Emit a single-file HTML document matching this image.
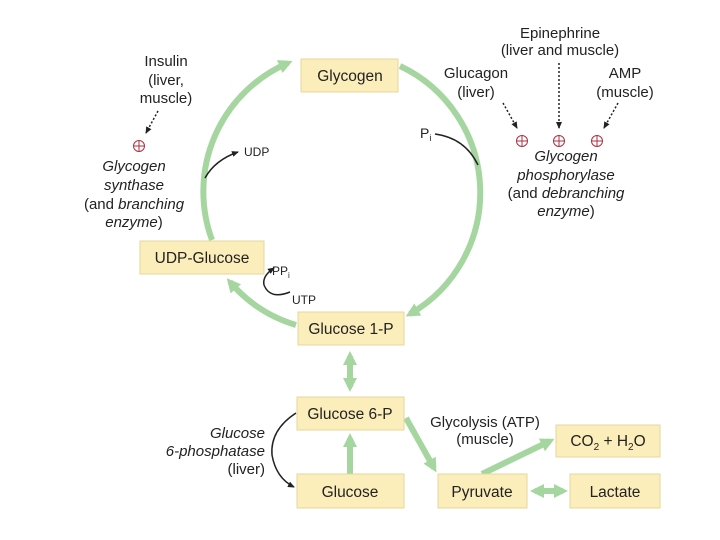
<!DOCTYPE html>
<html><head><meta charset="utf-8"><style>
html,body{margin:0;padding:0;background:#fff;}
svg{display:block;font-family:"Liberation Sans",sans-serif;}
</style></head><body>
<svg width="720" height="540" viewBox="0 0 720 540" xmlns="http://www.w3.org/2000/svg">
<defs>
<marker id="g" markerWidth="16" markerHeight="14" refX="9" refY="7" orient="auto" markerUnits="userSpaceOnUse"><path d="M0,0 L14,7 L0,14 Z" fill="#a6d6a0"/></marker>
<marker id="gs" markerWidth="16" markerHeight="14" refX="9" refY="7" orient="auto-start-reverse" markerUnits="userSpaceOnUse"><path d="M0,0 L14,7 L0,14 Z" fill="#a6d6a0"/></marker>
<marker id="k" markerWidth="8" markerHeight="8" refX="6" refY="4" orient="auto" markerUnits="userSpaceOnUse"><path d="M0,1 L7,4 L0,7 Z" fill="#222"/></marker>
</defs>
<g fill="none" stroke="#a6d6a0" stroke-width="6">
<path d="M212,240 A140,140 0 0 1 288,63" marker-end="url(#g)"/>
<path d="M400,66 A140,140 0 0 1 410,314" marker-end="url(#g)"/>
<path d="M296,325 A140,140 0 0 1 230,282" marker-end="url(#g)"/>
<path d="M350,356 L350,387" marker-end="url(#g)" marker-start="url(#gs)"/>
<path d="M350,474 L350,438" marker-end="url(#g)"/>
<path d="M406,418 L434,468" marker-end="url(#g)"/>
<path d="M482,474 L550,441" marker-end="url(#g)"/>
<path d="M535,491 L563,491" marker-end="url(#g)" marker-start="url(#gs)"/>
</g>
<g fill="#fbeebb" stroke="#e6d79e" stroke-width="1">
<rect x="301" y="59" width="97" height="33"/>
<rect x="140" y="241" width="124" height="33"/>
<rect x="298" y="312" width="106" height="33"/>
<rect x="297" y="397" width="107" height="33"/>
<rect x="297" y="474" width="107" height="34"/>
<rect x="438" y="474" width="89" height="34"/>
<rect x="556" y="425" width="104" height="32"/>
<rect x="570" y="474" width="90" height="34"/>
</g>
<g font-size="15.5" fill="#222" text-anchor="middle">
<text x="350" y="81">Glycogen</text>
<text x="202" y="263">UDP-Glucose</text>
<text x="351" y="334">Glucose 1-P</text>
<text x="350" y="419">Glucose 6-P</text>
<text x="350" y="497">Glucose</text>
<text x="482" y="497">Pyruvate</text>
<text x="608" y="446">CO<tspan font-size="10" dy="4">2</tspan><tspan dy="-4"> + H</tspan><tspan font-size="10" dy="4">2</tspan><tspan dy="-4">O</tspan></text>
<text x="615" y="497">Lactate</text>
</g>
<g font-size="15" fill="#222" text-anchor="middle">
<text x="166" y="66">Insulin</text><text x="166" y="85">(liver,</text><text x="166" y="103">muscle)</text>
<text x="134" y="171" font-style="italic">Glycogen</text>
<text x="134" y="190" font-style="italic">synthase</text>
<text x="134" y="209">(and <tspan font-style="italic">branching</tspan></text>
<text x="134" y="227"><tspan font-style="italic">enzyme</tspan>)</text>
<text x="560" y="38">Epinephrine</text><text x="560" y="55">(liver and muscle)</text>
<text x="476" y="78">Glucagon</text><text x="476" y="97">(liver)</text>
<text x="625" y="78">AMP</text><text x="625" y="97">(muscle)</text>
<text x="566" y="161" font-style="italic">Glycogen</text>
<text x="566" y="180" font-style="italic">phosphorylase</text>
<text x="566" y="198">(and <tspan font-style="italic">debranching</tspan></text>
<text x="566" y="216"><tspan font-style="italic">enzyme</tspan>)</text>
<text x="485" y="427">Glycolysis (ATP)</text><text x="485" y="444">(muscle)</text>
<text x="265" y="438" text-anchor="end" font-style="italic">Glucose</text>
<text x="265" y="456" text-anchor="end" font-style="italic">6-phosphatase</text>
<text x="265" y="474" text-anchor="end">(liver)</text>
</g>
<g font-size="12" fill="#222">
<text x="244" y="156">UDP</text>
<text x="272" y="275">PP<tspan font-size="8" dy="3">i</tspan></text>
<text x="292" y="304">UTP</text>
<text x="420" y="138" font-size="14">P<tspan font-size="9" dy="3">i</tspan></text>
</g>
<g fill="none" stroke="#222" stroke-width="1.5">
<path d="M205,178 Q215,160 238,152" marker-end="url(#k)"/>
<path d="M290,292 Q270,300 264,285 Q262,276 274,268" marker-end="url(#k)"/>
<path d="M435,134 Q465,138 478,165"/>
<path d="M296,413 Q270,430 272,455 Q276,478 294,487" marker-end="url(#k)"/>
</g>
<g fill="none" stroke="#222" stroke-width="1.5" stroke-dasharray="2,2">
<path d="M158,111 L146,133" marker-end="url(#k)"/>
<path d="M503,103 L517,128" marker-end="url(#k)"/>
<path d="M559,63 L559,128" marker-end="url(#k)"/>
<path d="M618,103 L604,128" marker-end="url(#k)"/>
</g>
<g fill="none" stroke="#b03040" stroke-width="1">
<circle cx="139" cy="146" r="5.5"/><path d="M133.5,146 H144.5 M139,140.5 V151.5"/>
<circle cx="522" cy="141" r="5.5"/><path d="M516.5,141 H527.5 M522,135.5 V146.5"/>
<circle cx="559" cy="141" r="5.5"/><path d="M553.5,141 H564.5 M559,135.5 V146.5"/>
<circle cx="597" cy="141" r="5.5"/><path d="M591.5,141 H602.5 M597,135.5 V146.5"/>
</g>
</svg>
</body></html>
